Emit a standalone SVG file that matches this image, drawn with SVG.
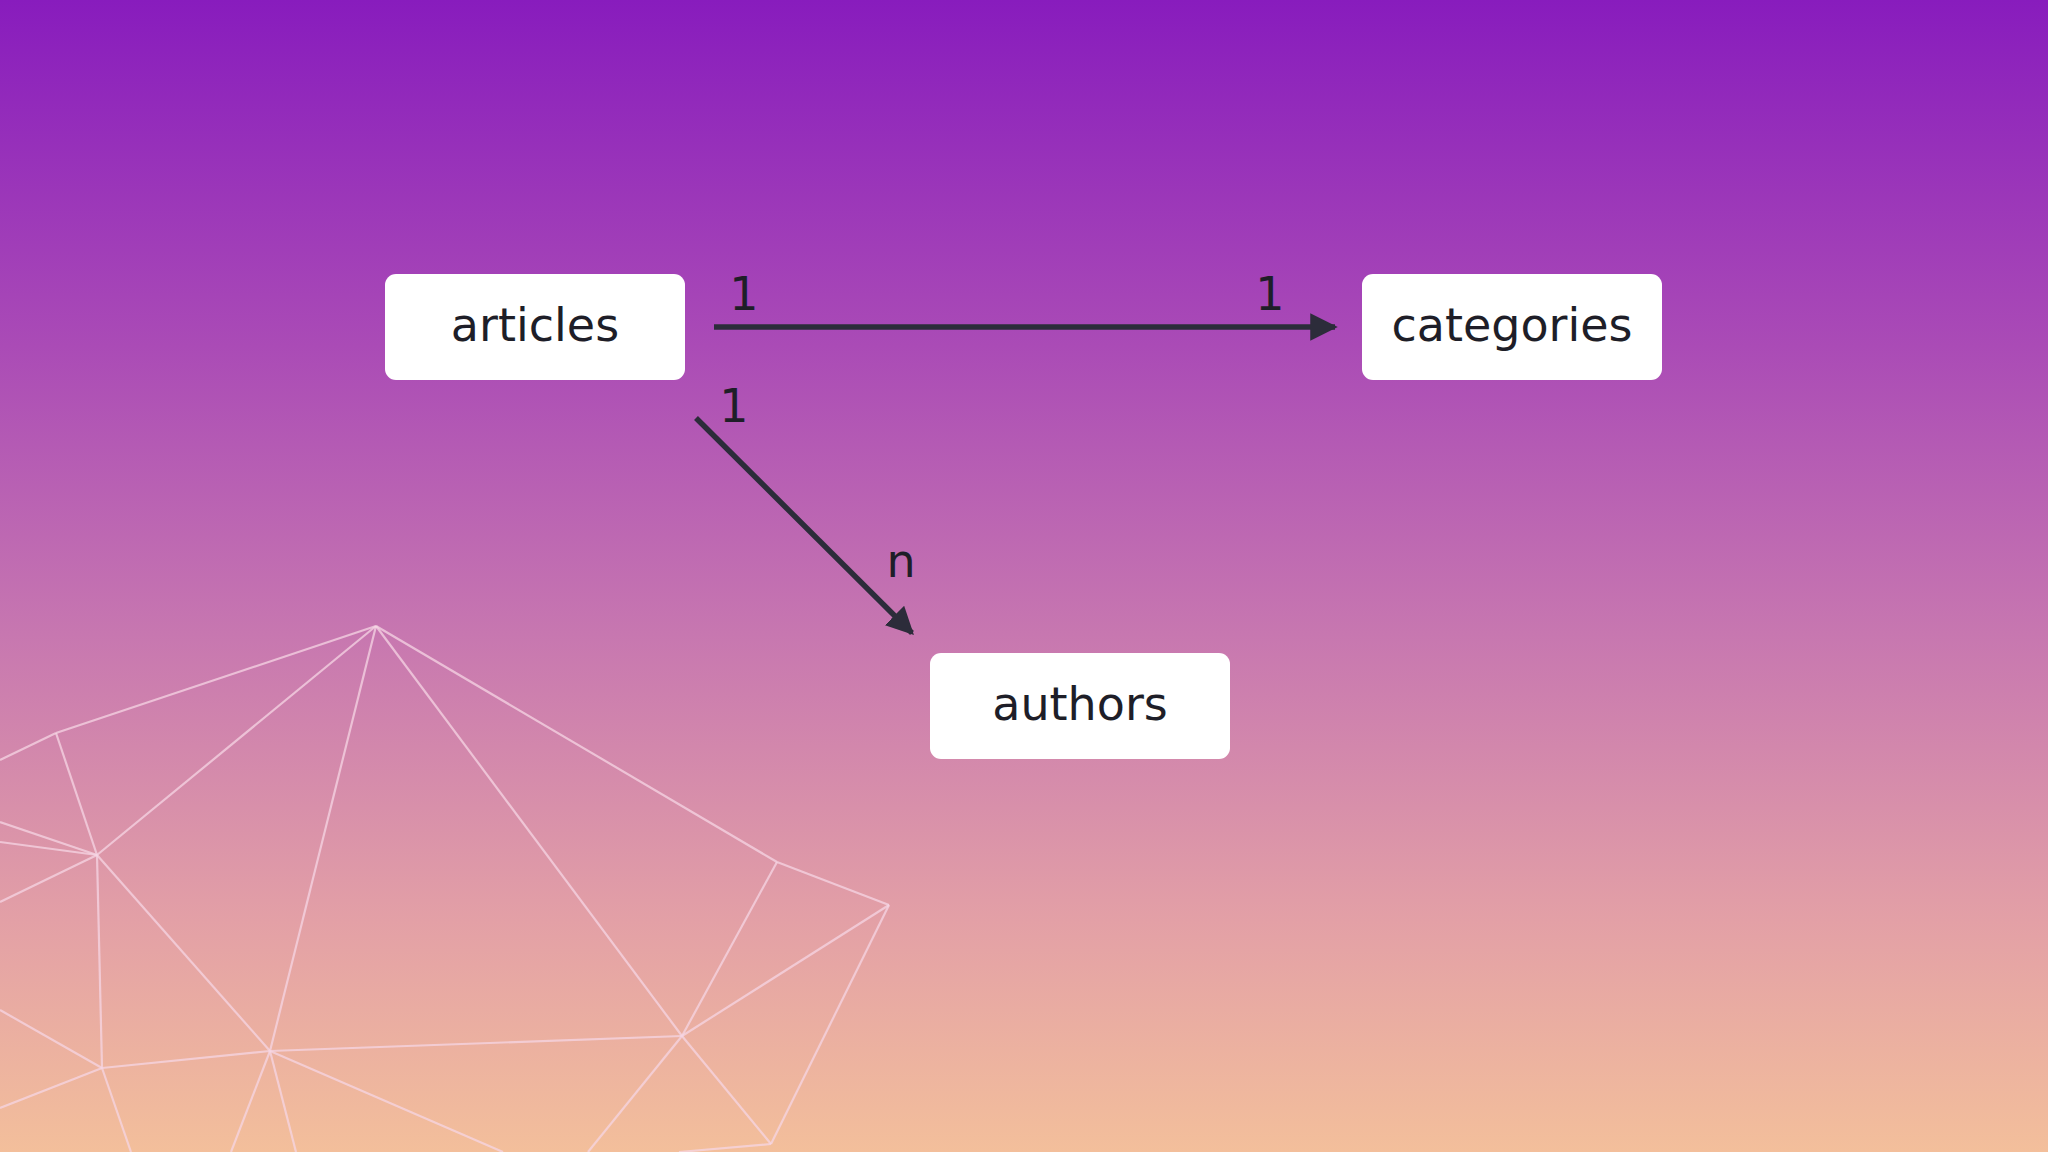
<svg xmlns="http://www.w3.org/2000/svg" width="2048" height="1152" viewBox="0 0 2048 1152">
<defs>
<linearGradient id="bg" x1="0" y1="0" x2="0" y2="1">
<stop offset="0" stop-color="#881cbd"/>
<stop offset="0.3" stop-color="#aa4bb6"/>
<stop offset="0.55" stop-color="#c777b0"/>
<stop offset="0.8" stop-color="#e3a0a6"/>
<stop offset="1" stop-color="#f3bf9b"/>
</linearGradient>
<marker id="ah" viewBox="0 0 10 10" refX="9" refY="5" markerWidth="5" markerHeight="5" orient="auto" markerUnits="strokeWidth">
<path d="M0,0 L10,5 L0,10 z" fill="#2c2c3a"/>
</marker>
<style>
.node rect{fill:#fff}
.node text,.lbl{font-family:"DejaVu Sans","Liberation Sans",sans-serif;font-size:46px;fill:#1e1e28;text-anchor:middle}
.edge{stroke:#2c2c3a;stroke-width:5.5;fill:none;marker-end:url(#ah)}
.mesh line{stroke:#f6d6e4;stroke-opacity:0.75;stroke-width:2.2}
</style>
</defs>
<rect width="2048" height="1152" fill="url(#bg)"/>
<g class="mesh">
<line x1="376" y1="626" x2="56" y2="733"/>
<line x1="56" y1="733" x2="0" y2="760"/>
<line x1="56" y1="733" x2="97" y2="855"/>
<line x1="376" y1="626" x2="97" y2="855"/>
<line x1="376" y1="626" x2="270" y2="1051"/>
<line x1="376" y1="626" x2="682" y2="1036"/>
<line x1="376" y1="626" x2="777" y2="862"/>
<line x1="777" y1="862" x2="889" y2="905"/>
<line x1="777" y1="862" x2="682" y2="1036"/>
<line x1="889" y1="905" x2="682" y2="1036"/>
<line x1="889" y1="905" x2="771" y2="1144"/>
<line x1="682" y1="1036" x2="771" y2="1144"/>
<line x1="682" y1="1036" x2="270" y2="1051"/>
<line x1="270" y1="1051" x2="97" y2="855"/>
<line x1="97" y1="855" x2="102" y2="1068"/>
<line x1="270" y1="1051" x2="102" y2="1068"/>
<line x1="102" y1="1068" x2="131" y2="1152"/>
<line x1="270" y1="1051" x2="231" y2="1152"/>
<line x1="270" y1="1051" x2="296" y2="1152"/>
<line x1="270" y1="1051" x2="503" y2="1152"/>
<line x1="682" y1="1036" x2="588" y2="1152"/>
<line x1="771" y1="1144" x2="679" y2="1152"/>
<line x1="0" y1="822" x2="97" y2="855"/>
<line x1="0" y1="842" x2="97" y2="855"/>
<line x1="0" y1="902" x2="97" y2="855"/>
<line x1="0" y1="1010" x2="102" y2="1068"/>
<line x1="0" y1="1108" x2="102" y2="1068"/>
</g>
<g id="connectors">
<line class="edge" x1="714" y1="327" x2="1335" y2="327"/>
<line class="edge" x1="696" y1="418" x2="912" y2="633"/>
<text class="lbl" x="744" y="310">1</text>
<text class="lbl" x="1270" y="310">1</text>
<text class="lbl" x="734" y="422">1</text>
<text class="lbl" x="901" y="577">n</text>
</g>
<g id="articles" class="node"><rect x="385" y="274" width="300" height="106" rx="11"/><text x="535" y="341">articles</text></g>
<g id="categories" class="node"><rect x="1362" y="274" width="300" height="106" rx="11"/><text x="1512" y="341">categories</text></g>
<g id="authors" class="node"><rect x="930" y="653" width="300" height="106" rx="11"/><text x="1080" y="720">authors</text></g>
</svg>
